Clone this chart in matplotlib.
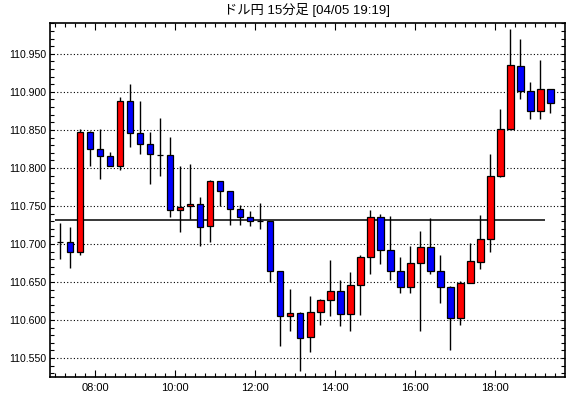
import numpy as np
import pandas as pd
import matplotlib
matplotlib.use('Agg')
import matplotlib.pyplot as plt
from matplotlib.ticker import MultipleLocator, FixedLocator

plt.rcParams['font.family'] = ['Liberation Sans', 'Noto Sans CJK JP']

title = 'ドル円 15分足 [04/05 19:19]'

# 15 minute candles from 07:00 to 19:15
times = pd.date_range('2021-04-05 07:00', periods=50, freq='15min')

opens = [110.702, 110.702, 110.689, 110.847, 110.825, 110.816, 110.803, 110.888, 110.846, 110.831,
         110.817, 110.817, 110.744, 110.750, 110.753, 110.723, 110.783, 110.769, 110.746, 110.736,
         110.730, 110.730, 110.664, 110.605, 110.609, 110.577, 110.610, 110.626, 110.638, 110.608,
         110.646, 110.683, 110.735, 110.692, 110.664, 110.644, 110.675, 110.696, 110.665, 110.644,
         110.602, 110.648, 110.676, 110.706, 110.790, 110.851, 110.934, 110.901, 110.875, 110.904]
highs = [110.727, 110.722, 110.851, 110.848, 110.851, 110.821, 110.893, 110.911, 110.888, 110.847,
         110.865, 110.841, 110.803, 110.805, 110.762, 110.784, 110.783, 110.769, 110.751, 110.743,
         110.754, 110.730, 110.665, 110.641, 110.610, 110.632, 110.628, 110.679, 110.653, 110.663,
         110.685, 110.745, 110.740, 110.737, 110.683, 110.697, 110.717, 110.734, 110.686, 110.645,
         110.651, 110.701, 110.738, 110.818, 110.877, 110.983, 110.969, 110.913, 110.942, 110.904]
lows = [110.680, 110.668, 110.686, 110.802, 110.786, 110.802, 110.797, 110.828, 110.818, 110.779,
        110.790, 110.735, 110.716, 110.733, 110.697, 110.702, 110.750, 110.725, 110.725, 110.723,
        110.720, 110.650, 110.566, 110.585, 110.533, 110.558, 110.593, 110.605, 110.592, 110.585,
        110.606, 110.660, 110.674, 110.652, 110.635, 110.636, 110.585, 110.660, 110.622, 110.561,
        110.594, 110.648, 110.667, 110.690, 110.788, 110.851, 110.891, 110.864, 110.864, 110.872]
closes = [110.702, 110.689, 110.847, 110.825, 110.816, 110.803, 110.888, 110.846, 110.831, 110.818,
          110.817, 110.744, 110.749, 110.753, 110.722, 110.783, 110.769, 110.746, 110.736, 110.730,
          110.730, 110.665, 110.605, 110.609, 110.576, 110.610, 110.626, 110.638, 110.608, 110.646,
          110.683, 110.736, 110.692, 110.664, 110.644, 110.675, 110.696, 110.665, 110.644, 110.602,
          110.648, 110.677, 110.706, 110.790, 110.851, 110.935, 110.901, 110.875, 110.904, 110.885]

ref_level = 110.731

y_ticks = [110.55, 110.60, 110.65, 110.70, 110.75, 110.80, 110.85, 110.90, 110.95]
x_ticks = [8, 10, 12, 14, 16, 18]
x_labels = ['08:00', '10:00', '12:00', '14:00', '16:00', '18:00']

o = np.array(opens)
h = np.array(highs)
l = np.array(lows)
c = np.array(closes)
# candle centre in hours
x = np.asarray(times.hour + times.minute / 60) + 7.5 / 60
cols = np.where(c >= o, '#ff0000', '#0000ff')

fig = plt.figure(figsize=(5.7, 3.98), dpi=100, facecolor='white')
ax = fig.add_axes([50 / 570, 21 / 398, 515 / 570, 354.3 / 398])

ax.yaxis.grid(True, linestyle=(0, (1, 2)), color='black', lw=0.8, zorder=0)
ax.set_axisbelow(True)

ax.hlines(ref_level, 7.0, 19.25, color='black', lw=1.1, zorder=1)
ax.vlines(x, l, h, color='black', lw=1.0, zorder=2)
ax.bar(x, c - o, bottom=o, width=0.16, color=cols, edgecolor='black', linewidth=0.9, zorder=3)

ax.set_xlim(6.87, 19.74)
ax.set_ylim(110.525, 110.991)

ax.yaxis.set_major_locator(FixedLocator(y_ticks))
ax.yaxis.set_minor_locator(MultipleLocator(0.01))
ax.set_yticklabels(['%.3f' % v for v in y_ticks])
ax.xaxis.set_major_locator(FixedLocator(x_ticks))
ax.xaxis.set_minor_locator(MultipleLocator(0.25))
ax.set_xticklabels(x_labels)

ax.tick_params(which='both', direction='in', top=True, right=True, width=0.8, labelsize=8, colors='black')
ax.tick_params(axis='y', which='both', length=3, pad=3, labelsize=7.6)
ax.tick_params(axis='x', which='minor', length=3)
ax.tick_params(axis='x', which='major', length=5, pad=4)

for s in ax.spines.values():
    s.set_linewidth(1.2)

fig.text(307 / 570, 1 - 10 / 398, title, ha='center', va='center', fontsize=9.5)

plt.savefig('out.png', dpi=100)
